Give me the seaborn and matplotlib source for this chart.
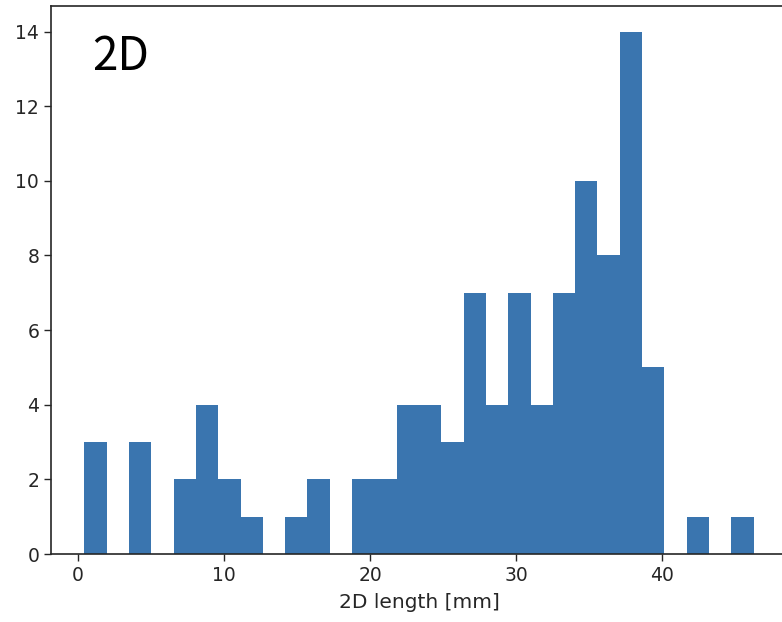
import numpy as np
import pandas as pd
import matplotlib
matplotlib.use("Agg")
import matplotlib.pyplot as plt
import seaborn as sns

# Histogram data: 30 equal bins
bin_start = 0.45
bin_end = 46.24
n_bins = 30
counts = [3, 0, 3, 0, 2, 4, 2, 1, 0, 1,
          2, 0, 2, 2, 4, 4, 3, 7, 4, 7,
          4, 7, 10, 8, 14, 5, 0, 1, 0, 1]
x_label = "2D length [mm]"
panel_label = "2D"
x_ticks = [0, 10, 20, 30, 40]
y_ticks = [0, 2, 4, 6, 8, 10, 12, 14]

edges = np.linspace(bin_start, bin_end, n_bins + 1)
centers = (edges[:-1] + edges[1:]) / 2
df = pd.DataFrame({"length": centers, "count": counts})

sns.set_style("ticks")
plt.rcParams["font.family"] = ["DejaVu Sans"]

fig = plt.figure(figsize=(7.82, 6.22), dpi=100)
W, H = 782, 622
left, right, top, bottom = 51, 787, 5.5, 554
ax = fig.add_axes([left / W, (H - bottom) / H, (right - left) / W, (bottom - top) / H])

sns.histplot(data=df, x="length", weights="count", bins=n_bins,
             binrange=(bin_start, bin_end), ax=ax,
             color="#3a75af", alpha=1.0, linewidth=0, edgecolor="none")

ax.set_xlim(bin_start - 0.05 * (bin_end - bin_start), bin_end + 0.05 * (bin_end - bin_start))
ax.set_ylim(0, 14.7)
ax.set_xticks(x_ticks)
ax.set_yticks(y_ticks)
ax.set_xlabel(x_label, fontsize=14.5, color="#262626", labelpad=6)
ax.set_ylabel("")
ax.tick_params(axis="both", labelsize=13.5, length=5, width=1.0, colors="#262626",
               labelcolor="#262626")
for s in ax.spines.values():
    s.set_visible(True)
    s.set_linewidth(1.2)
    s.set_color("#262626")

ax.text(0.056, 0.951, panel_label, transform=ax.transAxes, fontsize=33,
        va="top", ha="left", color="black",
        family=["Noto Sans CJK JP", "DejaVu Sans"])

fig.savefig("out.png", dpi=100)
